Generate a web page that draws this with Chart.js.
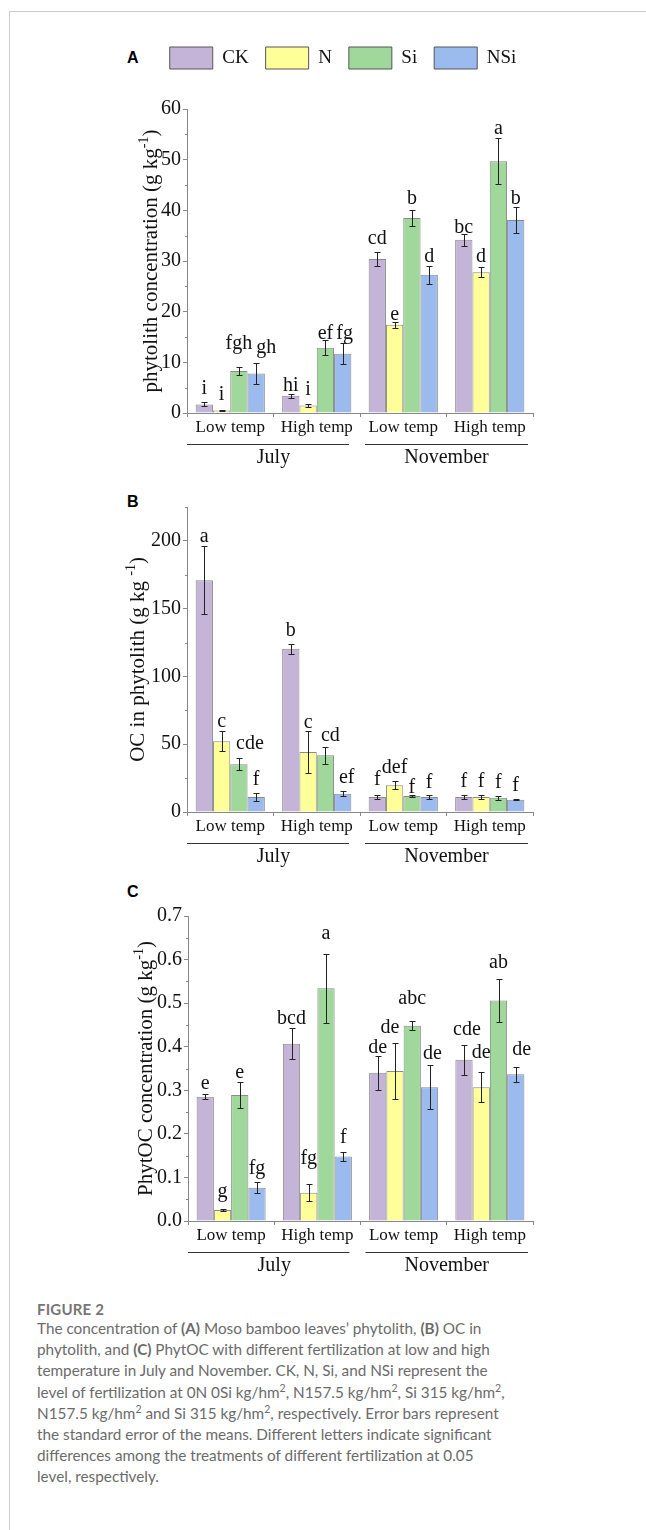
<!DOCTYPE html>
<html>
<head>
<meta charset="utf-8">
<script src="https://cdn.jsdelivr.net/npm/chart.js@4"></script>
<style>
  body { margin: 0; background: #fff; }
  .page { position: relative; width: 646px; height: 1530px; overflow: hidden; }
  .frame { position: absolute; left: 9px; top: 11px; right: 0; bottom: 0;
           border-top: 1px solid #cccccc; border-left: 1px solid #cccccc; }
  canvas { position: absolute; left: 0; }
  .tag { position: absolute; font: bold 16px "Liberation Sans", Arial, sans-serif; color: #000; line-height: 1; }
  .fig { position: absolute; left: 37px; top: 1300px; font: bold 15px Lato, sans-serif;
         color: #767676; letter-spacing: 0.2px; }
  .caption { position: absolute; left: 37px; top: 1318px; font: 15.3px Lato, sans-serif;
             color: #6b6b6b; line-height: 21.2px; white-space: nowrap; }
  .caption b { font-weight: bold; }
  .caption sup { font-size: 10.5px; line-height: 0; vertical-align: 6px; }
</style>
</head>
<body>
<div class="page">
  <div class="frame"></div>
  <div class="tag" style="left:127px;top:50px">A</div>
  <div class="tag" style="left:127px;top:494px">B</div>
  <div class="tag" style="left:127px;top:884px">C</div>
  <canvas id="chartA" width="646" height="445" style="top:30px"></canvas>
  <canvas id="chartB" width="646" height="400" style="top:480px"></canvas>
  <canvas id="chartC" width="646" height="400" style="top:880px"></canvas>
  <div class="fig">FIGURE 2</div>
  <div class="caption">
    The concentration of <b>(A)</b> Moso bamboo leaves’ phytolith, <b>(B)</b> OC in<br>
    phytolith, and <b>(C)</b> PhytOC with different fertilization at low and high<br>
    temperature in July and November. CK, N, Si, and NSi represent the<br>
    level of fertilization at 0N 0Si kg/hm<sup>2</sup>, N157.5 kg/hm<sup>2</sup>, Si 315 kg/hm<sup>2</sup>,<br>
    N157.5 kg/hm<sup>2</sup> and Si 315 kg/hm<sup>2</sup>, respectively. Error bars represent<br>
    the standard error of the means. Different letters indicate significant<br>
    differences among the treatments of different fertilization at 0.05<br>
    level, respectively.
  </div>
</div>
<script>
const categories = ['Low temp', 'High temp', 'Low temp', 'High temp'];
const months = ['July', 'November'];
const treatments = ['CK', 'N', 'Si', 'NSi'];

// (A) phytolith concentration (g/kg)
const phytCK  = [1.7, 3.4, 30.4, 34.2];
const phytN   = [0.5, 1.5, 17.4, 27.8];
const phytSi  = [8.3, 12.9, 38.5, 49.7];
const phytNSi = [7.8, 11.7, 27.3, 38.1];
const phytErrCK  = [0.4, 0.4, 1.4, 1.2];
const phytErrN   = [0.1, 0.3, 0.6, 1.0];
const phytErrSi  = [0.8, 1.5, 1.5, 4.6];
const phytErrNSi = [2.0, 2.1, 1.8, 2.5];
const phytLetCK  = ['i', 'hi', 'cd', 'bc'];
const phytLetN   = ['i', 'i', 'e', 'd'];
const phytLetSi  = ['fgh', 'ef', 'b', 'a'];
const phytLetNSi = ['gh', 'fg', 'd', 'b'];
const phytTicks = [0, 10, 20, 30, 40, 50, 60];

// (B) OC in phytolith (g/kg)
const ocCK  = [171, 120.5, 11.1, 11.1];
const ocN   = [52.2, 44.3, 19.7, 11.1];
const ocSi  = [35.2, 41.8, 11.8, 10.6];
const ocNSi = [11.1, 13.5, 11.1, 9.1];
const ocErrCK  = [25.3, 3.7, 1.7, 1.7];
const ocErrN   = [7.5, 15.4, 3.0, 1.2];
const ocErrSi  = [4.3, 6.4, 0.5, 1.5];
const ocErrNSi = [3.0, 1.8, 1.5, 0.4];
const ocLetCK  = ['a', 'b', 'f', 'f'];
const ocLetN   = ['c', 'c', 'def', 'f'];
const ocLetSi  = ['cde', 'cd', 'f', 'f'];
const ocLetNSi = ['f', 'ef', 'f', 'f'];
const ocTicks = [0, 50, 100, 150, 200];

// (C) PhytOC concentration (g/kg)
const pocCK  = [0.285, 0.407, 0.340, 0.370];
const pocN   = [0.025, 0.065, 0.344, 0.307];
const pocSi  = [0.289, 0.534, 0.448, 0.506];
const pocNSi = [0.0765, 0.148, 0.307, 0.337];
const pocErrCK  = [0.006, 0.035, 0.039, 0.035];
const pocErrN   = [0.002, 0.019, 0.065, 0.035];
const pocErrSi  = [0.029, 0.079, 0.010, 0.049];
const pocErrNSi = [0.012, 0.011, 0.050, 0.017];
const pocLetCK  = ['e', 'bcd', 'de', 'cde'];
const pocLetN   = ['g', 'fg', 'de', 'de'];
const pocLetSi  = ['e', 'a', 'abc', 'ab'];
const pocLetNSi = ['fg', 'f', 'de', 'de'];
const pocTicks = [0, 0.1, 0.2, 0.3, 0.4, 0.5, 0.6, 0.7];

const fills = ['#c4b4d8', '#ffff99', '#a0d89c', '#9bbbef'];
const serif = '"Liberation Serif", "Times New Roman", serif';

function buildSets(values, errors, letters) {
  return treatments.map((name, i) => ({
    label: name,
    data: values[i],
    errors: errors[i],
    letters: letters[i],
    backgroundColor: fills[i],
    borderColor: '#8a8a8a',
    borderWidth: 1,
    barPercentage: 1,
    categoryPercentage: 0.8
  }));
}

// error bars, significance letters, y title, minor ticks, month groups
const decor = {
  id: 'decor',
  afterDatasetsDraw(chart, args, opts) {
    const { ctx, scales: { y } } = chart;
    ctx.save();
    ctx.strokeStyle = '#222';
    ctx.lineWidth = 1;
    ctx.fillStyle = '#111';
    ctx.font = '20px ' + serif;
    ctx.textAlign = 'center';
    ctx.textBaseline = 'alphabetic';
    chart.data.datasets.forEach((ds, i) => {
      chart.getDatasetMeta(i).data.forEach((bar, j) => {
        const v = ds.data[j], e = ds.errors[j];
        const yt = Math.round(y.getPixelForValue(v + e)) + 0.5;
        const yb = Math.round(y.getPixelForValue(v - e)) + 0.5;
        const bx = Math.round(bar.x) + 0.5;
        ctx.beginPath();
        ctx.moveTo(bx, yt); ctx.lineTo(bx, yb);
        ctx.moveTo(bx - 3, yt); ctx.lineTo(bx + 3, yt);
        ctx.moveTo(bx - 3, yb); ctx.lineTo(bx + 3, yb);
        ctx.stroke();
        const dx = (opts.shift[i] || [])[j] || 0;
        ctx.fillText(ds.letters[j], bar.x + dx, yt - opts.lift[i][j]);
      });
    });
    ctx.restore();
  },
  afterDraw(chart, args, opts) {
    const { ctx, chartArea, scales: { x, y } } = chart;
    ctx.save();
    // minor ticks halfway between major ticks
    ctx.strokeStyle = '#888';
    ctx.lineWidth = 1;
    const tv = opts.ticks;
    const half = (tv[1] - tv[0]) / 2;
    ctx.beginPath();
    for (let v = half; v <= y.max + 1e-9; v += 2 * half) {
      const py = Math.round(y.getPixelForValue(v)) + 0.5;
      ctx.moveTo(chartArea.left - 2, py); ctx.lineTo(chartArea.left, py);
    }
    ctx.stroke();

    // y axis title with superscript
    const yc = (chartArea.top + chartArea.bottom) / 2;
    ctx.translate(opts.titleX, yc);
    ctx.rotate(-Math.PI / 2);
    ctx.fillStyle = '#111';
    ctx.textBaseline = 'alphabetic';
    ctx.textAlign = 'left';
    const big = '21px ' + serif, small = '14px ' + serif;
    ctx.font = big;
    const w1 = ctx.measureText(opts.title[0]).width;
    const w3 = ctx.measureText(opts.title[2]).width;
    ctx.font = small;
    const w2 = ctx.measureText(opts.title[1]).width;
    const sx = -(w1 + w2 + w3) / 2;
    ctx.font = big;
    ctx.fillText(opts.title[0], sx, 6);
    ctx.font = small;
    ctx.fillText(opts.title[1], sx + w1, -3);
    ctx.font = big;
    ctx.fillText(opts.title[2], sx + w1 + w2, 6);
    ctx.setTransform(1, 0, 0, 1, 0, 0);

    // month groups under the category labels
    const cw = x.getPixelForValue(1) - x.getPixelForValue(0);
    const lineY = Math.round(chartArea.bottom + 31) + 0.5;
    ctx.strokeStyle = '#333';
    ctx.beginPath();
    ctx.moveTo(x.getPixelForValue(0) - cw / 2, lineY);
    ctx.lineTo(x.getPixelForValue(1) + cw / 2 - 11, lineY);
    ctx.moveTo(x.getPixelForValue(2) - cw / 2 + 5, lineY);
    ctx.lineTo(x.getPixelForValue(3) + cw / 2 - 5, lineY);
    ctx.stroke();
    ctx.font = '20px ' + serif;
    ctx.textAlign = 'center';
    ctx.textBaseline = 'middle';
    months.forEach((m, k) => {
      const cx = (x.getPixelForValue(2 * k) + x.getPixelForValue(2 * k + 1)) / 2;
      ctx.fillText(m, cx, chartArea.bottom + 45);
    });
    ctx.restore();
  }
};

// extra space between legend and plot
const legendGap = {
  id: 'legendGap',
  beforeInit(chart, args, opts) {
    const lg = chart.legend;
    if (lg && !lg._gapPatched) {
      const fit = lg.fit;
      lg.fit = function () {
        fit.call(this);
        this.height += opts.gap;
      };
      lg._gapPatched = true;
    }
  }
};

function makeChart(id, sets, cfg) {
  new Chart(document.getElementById(id), {
    type: 'bar',
    data: { labels: categories, datasets: sets },
    options: {
      responsive: false,
      animation: false,
      devicePixelRatio: 1,
      layout: { padding: { left: cfg.padLeft, right: 0, top: cfg.padTop, bottom: 0 } },
      scales: {
        x: {
          grid: { offset: true, drawOnChartArea: false, tickLength: 4, color: '#888' },
          border: { color: '#888' },
          ticks: { font: { family: serif, size: 17 }, color: '#111', padding: 0, maxRotation: 0 },
          afterFit: (s) => { s.height = cfg.xHeight; }
        },
        y: {
          min: 0,
          max: cfg.max,
          grid: { drawOnChartArea: false, tickLength: 4, color: '#888' },
          border: { color: '#888' },
          ticks: {
            font: { family: serif, size: 20 },
            color: '#111',
            padding: 2,
            callback: (v) => cfg.fmt(v)
          },
          afterBuildTicks: (s) => { s.ticks = cfg.ticks.map((v) => ({ value: v })); },
          afterFit: (s) => { s.width = cfg.yWidth; }
        },
        // empty right-hand axis that only reserves the right margin
        spare: {
          position: 'right',
          display: true,
          grid: { display: false },
          border: { display: false },
          ticks: { display: false },
          afterFit: (s) => { s.width = 113; }
        }
      },
      plugins: {
        legend: {
          display: cfg.legend,
          labels: {
            boxWidth: 43,
            boxHeight: 22,
            padding: 17,
            color: '#111',
            font: { family: serif, size: 19 },
            generateLabels: (chart) =>
              Chart.defaults.plugins.legend.labels.generateLabels(chart)
                .map((l) => Object.assign(l, { strokeStyle: '#555', lineWidth: 1 }))
          }
        },
        legendGap: { gap: cfg.gap || 0 },
        tooltip: { enabled: false },
        decor: { ticks: cfg.ticks, title: cfg.title, titleX: cfg.titleX, lift: cfg.lift, shift: cfg.shift }
      }
    },
    plugins: [decor, legendGap]
  });
}

makeChart('chartA',
  buildSets([phytCK, phytN, phytSi, phytNSi],
            [phytErrCK, phytErrN, phytErrSi, phytErrNSi],
            [phytLetCK, phytLetN, phytLetSi, phytLetNSi]),
  { max: 60, ticks: phytTicks, fmt: (v) => String(v), padLeft: 40, yWidth: 147, padTop: 0,
    legend: true, gap: 30, xHeight: 62, titleX: 151,
    lift: [[9, 4, 9, 2], [11, 10, 3, 6], [19, 2, 7, 5], [11, 5, 5, 4]],
    shift: [[], [], [], [10, 2, 0, 0]],
    title: ['phytolith concentration (g kg', '-1', ')'] });

makeChart('chartB',
  buildSets([ocCK, ocN, ocSi, ocNSi],
            [ocErrCK, ocErrN, ocErrSi, ocErrNSi],
            [ocLetCK, ocLetN, ocLetSi, ocLetNSi]),
  { max: 225, ticks: ocTicks, fmt: (v) => String(v), padLeft: 0, yWidth: 187, padTop: 27,
    legend: false, xHeight: 68, titleX: 138,
    lift: [[5, 9, 11, 9], [5, 4, 9, 9], [10, 7, 3, 9], [9, 9, 8, 9]],
    shift: [[], [], [11, 5, 0, 0], [0, 4, 0, 0]],
    title: ['OC in phytolith (g kg ', '-1', ')'] });

makeChart('chartC',
  buildSets([pocCK, pocN, pocSi, pocNSi],
            [pocErrCK, pocErrN, pocErrSi, pocErrNSi],
            [pocLetCK, pocLetN, pocLetSi, pocLetNSi]),
  { max: 0.7, ticks: pocTicks, fmt: (v) => v.toFixed(1), padLeft: 0, yWidth: 188, padTop: 36,
    legend: false, xHeight: 59, titleX: 146,
    lift: [[6, 5, 4, 11], [13, 21, 11, 15], [5, 16, 18, 12], [9, 10, 7, 13]],
    shift: [[0, 0, 0, 3], [0, 0, -5, 0], [], [0, 0, 3, 6]],
    title: ['PhytOC concentration (g kg', '-1', ')'] });
</script>
</body>
</html>
